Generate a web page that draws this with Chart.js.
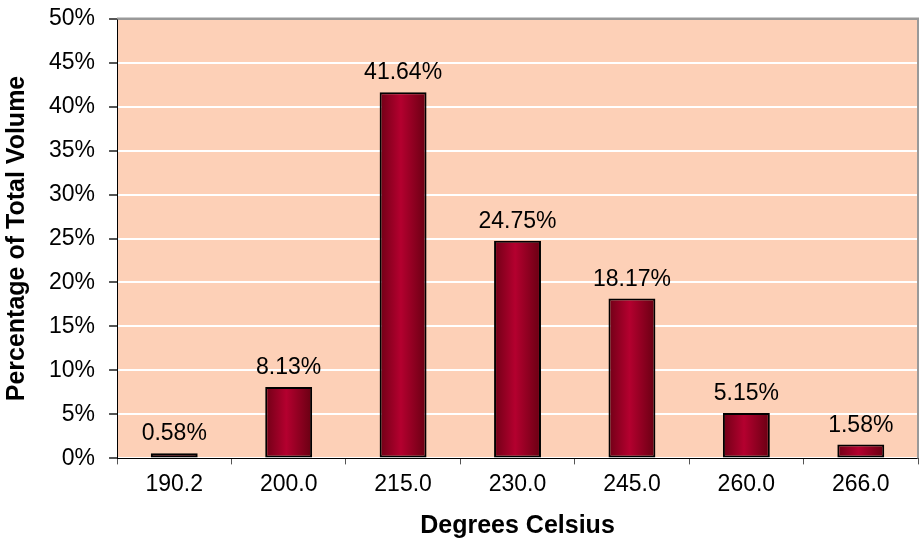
<!DOCTYPE html>
<html>
<head>
<meta charset="utf-8">
<script src="https://cdn.jsdelivr.net/npm/chart.js@4"></script>
<style>
    body { margin: 0; background: #fff; }
    #wrap { width: 921px; height: 546px; }
</style>
</head>
<body>
<div id="wrap"><canvas id="tempChart" width="921" height="546"></canvas></div>
<script>
const categories = ['190.2', '200.0', '215.0', '230.0', '245.0', '260.0', '266.0'];
const volumePct = [0.58, 8.13, 41.64, 24.75, 18.17, 5.15, 1.58];
const yMin = 0;
const yMax = 50;
const yStep = 5;

const FONT = 'Arial, "Liberation Sans", sans-serif';
const plotBg = '#FDD0B7';

const plotBackground = {
    id: 'plotBackground',
    beforeDraw(chart) {
        const { ctx, chartArea: a } = chart;
        ctx.save();
        ctx.fillStyle = plotBg;
        ctx.fillRect(a.left, a.top, a.right - a.left, a.bottom - a.top);
        ctx.restore();
    },
    beforeDatasetsDraw(chart) {
        const { ctx, chartArea: a } = chart;
        ctx.save();
        ctx.strokeStyle = '#999999';
        ctx.lineWidth = 2;
        ctx.beginPath();
        ctx.moveTo(a.left, a.top);
        ctx.lineTo(a.right, a.top);
        ctx.lineTo(a.right, a.bottom);
        ctx.stroke();
        ctx.restore();
    }
};

const barLabels = {
    id: 'barLabels',
    afterDatasetsDraw(chart) {
        const { ctx } = chart;
        const meta = chart.getDatasetMeta(0);
        ctx.save();
        ctx.font = '23px ' + FONT;
        ctx.fillStyle = '#000';
        ctx.textAlign = 'center';
        ctx.textBaseline = 'alphabetic';
        meta.data.forEach((bar, i) => {
            ctx.fillText(volumePct[i].toFixed(2) + '%', bar.x, bar.y - 13);
        });
        ctx.restore();
    }
};

function barFill(c) {
    const chart = c.chart;
    if (c.dataIndex === undefined || !chart.chartArea) return '#a0002a';
    const xs = chart.scales.x;
    const cx = xs.getPixelForValue(c.dataIndex);
    const w = xs.width / categories.length * 0.41;
    if (!isFinite(cx) || !isFinite(w)) return '#a0002a';
    const g = chart.ctx.createLinearGradient(cx - w / 2, 0, cx + w / 2, 0);
    g.addColorStop(0, '#700016');
    g.addColorStop(0.45, '#b4002f');
    g.addColorStop(1, '#680012');
    return g;
}

new Chart(document.getElementById('tempChart'), {
    type: 'bar',
    data: {
        labels: categories,
        datasets: [{
            data: volumePct,
            backgroundColor: barFill,
            borderColor: '#000',
            borderWidth: 2,
            borderSkipped: false,
            categoryPercentage: 1,
            barPercentage: 0.41
        }]
    },
    options: {
        responsive: false,
        animation: false,
        layout: { padding: { top: 13, right: 3, left: 0, bottom: 0 } },
        plugins: {
            legend: { display: false },
            tooltip: { enabled: false }
        },
        scales: {
            x: {
                grid: {
                    display: true,
                    drawOnChartArea: false,
                    tickLength: 6,
                    tickColor: '#555'
                },
                border: { color: '#000', width: 1 },
                ticks: {
                    color: '#000',
                    font: { family: FONT, size: 23 },
                    padding: 6,
                    maxRotation: 0
                },
                title: {
                    display: true,
                    text: 'Degrees Celsius',
                    color: '#000',
                    font: { family: FONT, size: 25, weight: 'bold' },
                    padding: { top: 7, bottom: 5 }
                }
            },
            y: {
                min: yMin,
                max: yMax,
                grid: {
                    color: (c) => c.tick && c.tick.value === yMax ? '#999999' : '#ffffff',
                    lineWidth: 2,
                    tickLength: 8,
                    tickColor: '#555'
                },
                border: { color: '#000', width: 1 },
                ticks: {
                    stepSize: yStep,
                    color: '#000',
                    font: { family: FONT, size: 23, lineHeight: 0.4 },
                    padding: 14,
                    callback: (v) => v + '%'
                },
                title: {
                    display: true,
                    text: 'Percentage of Total Volume',
                    color: '#000',
                    font: { family: FONT, size: 25, weight: 'bold' },
                    padding: { top: 2, bottom: 3 }
                }
            }
        }
    },
    plugins: [plotBackground, barLabels]
});
</script>
</body>
</html>
